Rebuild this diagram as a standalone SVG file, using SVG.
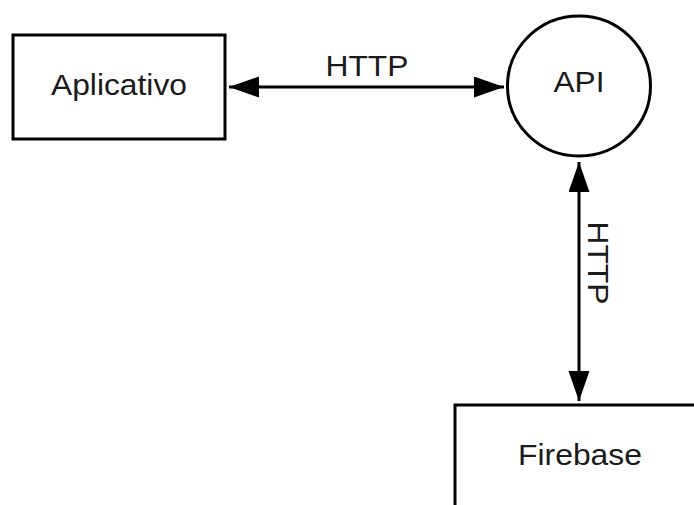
<svg xmlns="http://www.w3.org/2000/svg" width="694" height="505" viewBox="0 0 694 505">
  <style>
    .box { fill: #ffffff; stroke: #000000; stroke-width: 3; }
    .lbl { font-family: "Liberation Sans", Arial, sans-serif; font-size: 29px; fill: #1a1a1a; text-anchor: middle; }
    .conn { stroke: #000000; stroke-width: 3; fill: none; }
  </style>
  <defs>
    <marker id="ah" markerUnits="userSpaceOnUse" markerWidth="32" markerHeight="22" refX="30" refY="10.5" orient="auto-start-reverse" viewBox="0 0 32 22">
      <path d="M0,0 L30,10.5 L0,21 Z" fill="#000000"/>
    </marker>
  </defs>
  <rect width="694" height="505" fill="#ffffff"/>
  <g id="aplicativo">
    <rect class="box" x="13" y="35" width="212" height="104"/>
    <text class="lbl" x="119" y="95" textLength="136" lengthAdjust="spacingAndGlyphs">Aplicativo</text>
  </g>
  <g id="api">
    <ellipse class="box" cx="579" cy="86" rx="71.5" ry="70" stroke-width="2.5"/>
    <text class="lbl" x="579" y="92" textLength="51" lengthAdjust="spacingAndGlyphs">API</text>
  </g>
  <g id="firebase">
    <rect class="box" x="455" y="405" width="260" height="130"/>
    <text class="lbl" x="580" y="465" textLength="124" lengthAdjust="spacingAndGlyphs">Firebase</text>
  </g>
  <g id="connectors">
    <line class="conn" x1="229" y1="87" x2="504" y2="87" marker-start="url(#ah)" marker-end="url(#ah)"/>
    <text class="lbl" x="367" y="76" textLength="83" lengthAdjust="spacingAndGlyphs">HTTP</text>
    <line class="conn" x1="579" y1="162" x2="579" y2="401" marker-start="url(#ah)" marker-end="url(#ah)"/>
    <text class="lbl" transform="translate(588,263) rotate(90)" x="0" y="0" textLength="83" lengthAdjust="spacingAndGlyphs">HTTP</text>
  </g>
</svg>
